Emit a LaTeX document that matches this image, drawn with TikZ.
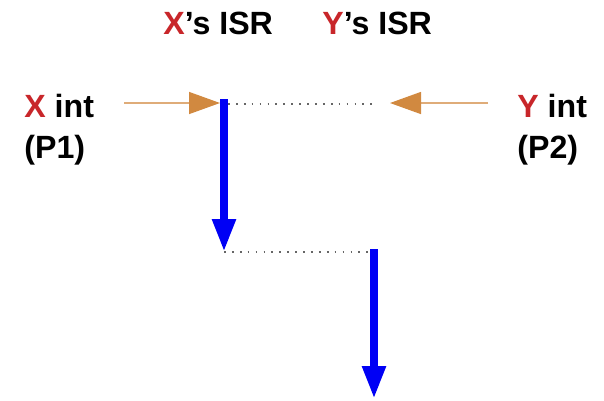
\documentclass[tikz,border=0pt]{standalone}
\usepackage{fontspec}
\setmainfont{Liberation Sans}
\usetikzlibrary{arrows.meta}
\definecolor{intred}{RGB}{200,38,42}
\definecolor{intorange}{RGB}{209,137,64}
\definecolor{isrblue}{RGB}{0,0,245}

\begin{document}
\begin{tikzpicture}[x=0.02cm, y=-0.02cm,
  lbl/.style={font=\fontsize{18.3}{21}\selectfont\bfseries, inner sep=0pt, anchor=base west},
  intarrow/.style={intorange!70, line width=0.8pt, -{Triangle[length=0.62cm, width=0.44cm, color=intorange, fill=intorange]}},
  israrrow/.style={isrblue, line width=0.16cm, -{Triangle[length=0.66cm, width=0.44cm]}},
  wait/.style={black!60, line width=1pt, dash pattern=on 1pt off 3.5pt}]
\useasboundingbox (0,0) rectangle (604,400);
% Headers
\node[lbl] (xisr) at (163,34) {\textcolor{intred}{X}’s ISR};
\node[lbl] (yisr) at (322,34) {\textcolor{intred}{Y}’s ISR};
% Interrupt sources
\node[lbl] (xint) at (24,117) {\textcolor{intred}{X} int};
\node[lbl] (p1) at (24,158) {(P1)};
\node[lbl] (yint) at (517,117) {\textcolor{intred}{Y} int};
\node[lbl] (p2) at (517,158) {(P2)};
% Arrival arrows
\coordinate (xfrom) at (124,103); \coordinate (xarr) at (220,103);
\coordinate (yfrom) at (488,103); \coordinate (yarr) at (390,103);
\draw[intarrow] (xfrom) -- (xarr);
\draw[intarrow] (yfrom) -- (yarr);
% X's ISR runs, Y waits
\coordinate (xstart) at (224,99); \coordinate (xend) at (224,252);
\draw[israrrow] (xstart) -- (xend);
\draw[wait] (228,104) -- (373,104);
% Y's ISR runs after X's
\coordinate (ystart) at (374,249); \coordinate (yend) at (374,399);
\draw[wait] (xend) -- (370,252);
\draw[israrrow] (ystart) -- (yend);
\end{tikzpicture}
\end{document}
